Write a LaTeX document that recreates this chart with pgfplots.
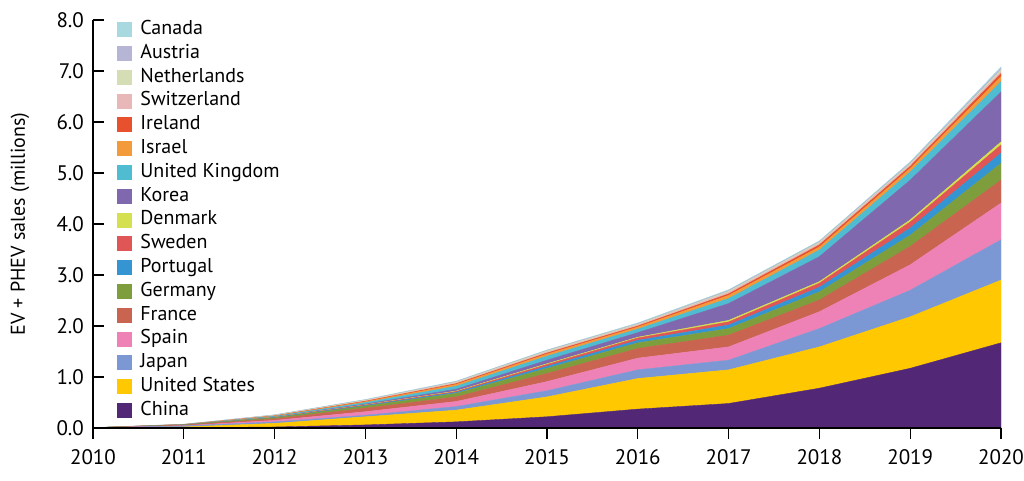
\documentclass[border=0pt]{standalone}
\usepackage{fontspec}
\setmainfont{PT Sans}
\usepackage{pgfplots}
\usepackage{pgfplotstable}
\pgfplotsset{compat=1.18}

\definecolor{cChina}{HTML}{512776}
\definecolor{cUS}{HTML}{FFC800}
\definecolor{cJapan}{HTML}{7C98D4}
\definecolor{cSpain}{HTML}{EE82B6}
\definecolor{cFrance}{HTML}{C86450}
\definecolor{cGermany}{HTML}{7E9E3E}
\definecolor{cPortugal}{HTML}{3495D2}
\definecolor{cSweden}{HTML}{E05555}
\definecolor{cDenmark}{HTML}{D4E050}
\definecolor{cKorea}{HTML}{8068AE}
\definecolor{cUK}{HTML}{4FBCD2}
\definecolor{cIsrael}{HTML}{F39A3A}
\definecolor{cIreland}{HTML}{E8512E}
\definecolor{cSwitz}{HTML}{E8B8B8}
\definecolor{cNether}{HTML}{D5DDB5}
\definecolor{cAustria}{HTML}{B7B5D5}
\definecolor{cCanada}{HTML}{A8D8E0}

\pgfplotstableread{
year China US Japan Spain France Germany Portugal Sweden Denmark Korea UK Israel Ireland Switz Nether Austria Canada
2010 0.001 0.001 0.002 0.000 0.001 0.001 0.000 0.000 0.000 0.000 0.000 0.000 0.000 0.000 0.000 0.000 0.003
2011 0.005 0.015 0.020 0.005 0.010 0.005 0.001 0.001 0.002 0.001 0.002 0.001 0.001 0.001 0.002 0.001 0.002
2012 0.020 0.070 0.030 0.030 0.030 0.020 0.005 0.005 0.005 0.005 0.010 0.005 0.003 0.005 0.007 0.005 0.005
2013 0.060 0.160 0.030 0.070 0.070 0.040 0.010 0.010 0.005 0.015 0.030 0.015 0.010 0.010 0.010 0.005 0.010
2014 0.120 0.230 0.070 0.100 0.090 0.070 0.020 0.015 0.010 0.035 0.060 0.035 0.015 0.015 0.015 0.010 0.010
2015 0.220 0.390 0.120 0.180 0.160 0.100 0.040 0.035 0.015 0.070 0.080 0.040 0.020 0.020 0.020 0.010 0.010
2016 0.370 0.600 0.170 0.230 0.190 0.110 0.050 0.045 0.015 0.090 0.070 0.040 0.020 0.020 0.015 0.010 0.015
2017 0.480 0.660 0.190 0.260 0.230 0.130 0.070 0.060 0.030 0.330 0.100 0.060 0.030 0.030 0.020 0.015 0.015
2018 0.780 0.810 0.360 0.330 0.230 0.160 0.090 0.080 0.030 0.490 0.130 0.060 0.040 0.030 0.020 0.015 0.015
2019 1.170 1.010 0.520 0.500 0.360 0.220 0.140 0.120 0.040 0.780 0.160 0.070 0.040 0.030 0.020 0.020 0.020
2020 1.670 1.230 0.790 0.720 0.450 0.330 0.200 0.160 0.060 0.980 0.200 0.100 0.060 0.040 0.030 0.030 0.030
}\data

\begin{document}
\begin{tikzpicture}
\path[use as bounding box] (-46.5pt,-26.5pt) rectangle (465.5pt,214pt);
\begin{axis}[
  at={(0pt,0pt)}, anchor=south west,
  scale only axis, width=454pt, height=204pt,
  xmin=2010, xmax=2020, ymin=0, ymax=8,
  enlargelimits=false,
  axis lines=left,
  axis line style={-, line width=0.7pt, black},
  axis on top,
  stack plots=y,
  xtick={2010,2011,...,2020},
  ytick={0,1,...,8},
  tick align=inside,
  major tick length=5.5pt,
  tick style={black, line width=0.7pt},
  x tick style={yshift=-5.5pt},
  xticklabel style={yshift=-7pt},
  yticklabel style={xshift=-1pt},
  tick label style={font=\fontsize{10.5}{12}\selectfont},
  /pgf/number format/assume math mode=true,
  x tick label style={/pgf/number format/.cd, set thousands separator={}, 1000 sep={}},
  yticklabel style={/pgf/number format/.cd, fixed, fixed zerofill, precision=1},
  ylabel={EV + PHEV sales (millions)},
  ylabel style={at={(axis description cs:-0.0804,0.5)}, anchor=center, font=\fontsize{10}{12}\selectfont},
  reverse legend,
  legend cell align=left,
  legend image code/.code={\fill[#1] (4pt,-3.5pt) rectangle (11pt,3.5pt); \path[draw=none,fill=none] (0pt,0pt) -- (14.5pt,0pt);},
  legend style={at={(axis description cs:0,1)}, anchor=north west, xshift=8pt, yshift=1pt,
    draw=none, fill=none, inner sep=0pt, row sep=0.9pt,
    font=\fontsize{10}{12}\selectfont,
    nodes={inner sep=1pt, text height=7pt, text depth=2pt}},
]
\addplot[fill=cChina, draw=cChina, line width=0.2pt] table[x=year,y=China]{\data} \closedcycle;
\addlegendentry{China}
\addplot[fill=cUS, draw=cUS, line width=0.2pt] table[x=year,y=US]{\data} \closedcycle;
\addlegendentry{United States}
\addplot[fill=cJapan, draw=cJapan, line width=0.2pt] table[x=year,y=Japan]{\data} \closedcycle;
\addlegendentry{Japan}
\addplot[fill=cSpain, draw=cSpain, line width=0.2pt] table[x=year,y=Spain]{\data} \closedcycle;
\addlegendentry{Spain}
\addplot[fill=cFrance, draw=cFrance, line width=0.2pt] table[x=year,y=France]{\data} \closedcycle;
\addlegendentry{France}
\addplot[fill=cGermany, draw=cGermany, line width=0.2pt] table[x=year,y=Germany]{\data} \closedcycle;
\addlegendentry{Germany}
\addplot[fill=cPortugal, draw=cPortugal, line width=0.2pt] table[x=year,y=Portugal]{\data} \closedcycle;
\addlegendentry{Portugal}
\addplot[fill=cSweden, draw=cSweden, line width=0.2pt] table[x=year,y=Sweden]{\data} \closedcycle;
\addlegendentry{Sweden}
\addplot[fill=cDenmark, draw=cDenmark, line width=0.2pt] table[x=year,y=Denmark]{\data} \closedcycle;
\addlegendentry{Denmark}
\addplot[fill=cKorea, draw=cKorea, line width=0.2pt] table[x=year,y=Korea]{\data} \closedcycle;
\addlegendentry{Korea}
\addplot[fill=cUK, draw=cUK, line width=0.2pt] table[x=year,y=UK]{\data} \closedcycle;
\addlegendentry{United Kingdom}
\addplot[fill=cIsrael, draw=cIsrael, line width=0.2pt] table[x=year,y=Israel]{\data} \closedcycle;
\addlegendentry{Israel}
\addplot[fill=cIreland, draw=cIreland, line width=0.2pt] table[x=year,y=Ireland]{\data} \closedcycle;
\addlegendentry{Ireland}
\addplot[fill=cSwitz, draw=cSwitz, line width=0.2pt] table[x=year,y=Switz]{\data} \closedcycle;
\addlegendentry{Switzerland}
\addplot[fill=cNether, draw=cNether, line width=0.2pt] table[x=year,y=Nether]{\data} \closedcycle;
\addlegendentry{Netherlands}
\addplot[fill=cAustria, draw=cAustria, line width=0.2pt] table[x=year,y=Austria]{\data} \closedcycle;
\addlegendentry{Austria}
\addplot[fill=cCanada, draw=cCanada, line width=0.2pt] table[x=year,y=Canada]{\data} \closedcycle;
\addlegendentry{Canada}
\end{axis}
\end{tikzpicture}
\end{document}
